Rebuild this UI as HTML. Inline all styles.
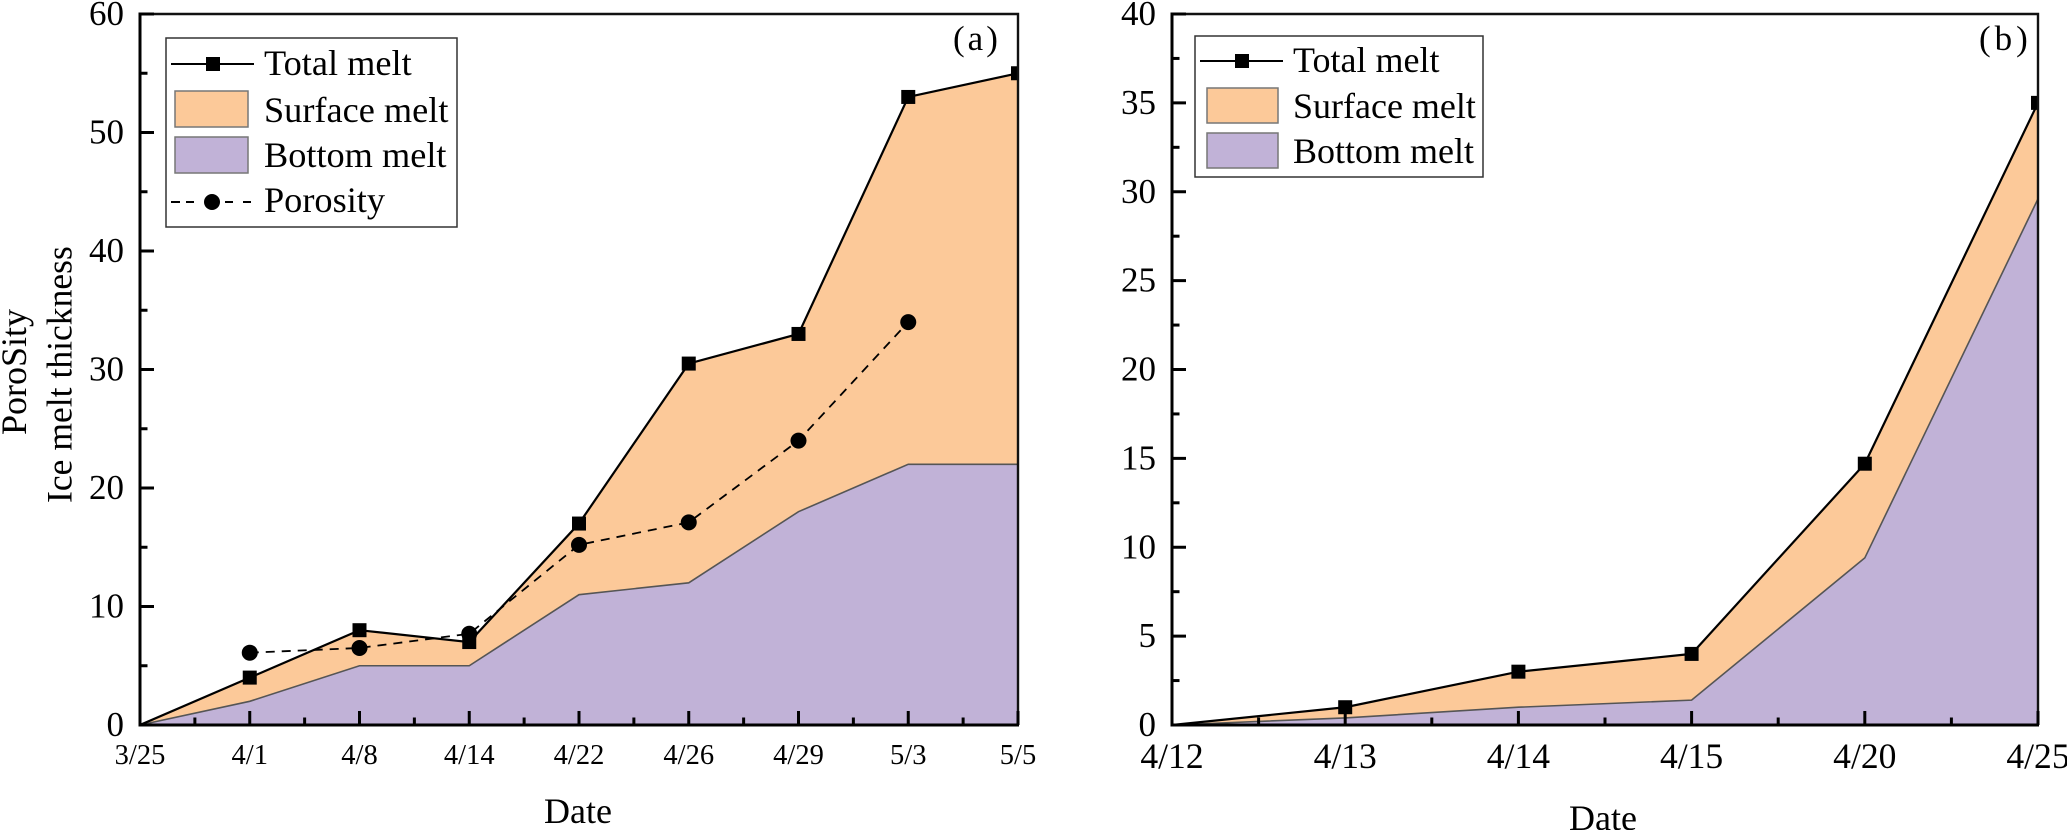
<!DOCTYPE html>
<html lang="en">
<head>
<meta charset="utf-8">
<title>Ice melt thickness and porosity charts</title>
<style>
html,body{margin:0;padding:0;background:#fff;width:2067px;height:830px;overflow:hidden}
svg{display:block}
text{font-family:"Liberation Serif",serif;fill:#000}
</style>
</head>
<body>
<svg id="figure" xmlns="http://www.w3.org/2000/svg" width="2067" height="830" viewBox="0 0 2067 830">
  <defs>
    <clipPath id="clip-a"><rect x="140" y="14" width="878" height="711"/></clipPath>
    <clipPath id="clip-b"><rect x="1172" y="14" width="866" height="711"/></clipPath>
  </defs>
  <g id="chart-a"></g>
  <g id="chart-b"></g>

  <text transform="translate(26,435) rotate(-90)" font-size="36">PoroSity</text>
  <text transform="translate(71.5,503) rotate(-90)" font-size="35.6">Ice melt thickness</text>
  <text x="578" y="823" font-size="36" text-anchor="middle">Date</text>
  <text x="1603" y="830" font-size="36" text-anchor="middle">Date</text>
  <text x="953" y="50" font-size="35" letter-spacing="3">(a)</text>
  <text x="1979" y="50" font-size="35" letter-spacing="4">(b)</text>

  <g>
    <rect x="166" y="38" width="291" height="189" fill="#fff" stroke="#333" stroke-width="1.5"/>
    <line x1="171" y1="64" x2="254" y2="64" stroke="#000" stroke-width="2"/>
    <rect x="206" y="57" width="14" height="14" fill="#000"/>
    <text x="264" y="75" font-size="36.3">Total melt</text>
    <rect x="175" y="91" width="73" height="36" fill="#fcc999" stroke="#777" stroke-width="1.5"/>
    <text x="264" y="122" font-size="36.3">Surface melt</text>
    <rect x="175" y="137" width="73" height="36" fill="#c1b2d7" stroke="#777" stroke-width="1.5"/>
    <text x="264" y="167" font-size="36.3">Bottom melt</text>
    <line x1="171" y1="202" x2="251" y2="202" stroke="#000" stroke-width="2" stroke-dasharray="9 6 8 31 8 10 8"/>
    <circle cx="212" cy="202" r="8" fill="#000"/>
    <text x="264" y="212" font-size="36.3">Porosity</text>
  </g>

  <g>
    <rect x="1195" y="36" width="288" height="141" fill="#fff" stroke="#333" stroke-width="1.5"/>
    <line x1="1200" y1="61" x2="1283" y2="61" stroke="#000" stroke-width="2"/>
    <rect x="1235" y="54" width="14" height="14" fill="#000"/>
    <text x="1293" y="72" font-size="36">Total melt</text>
    <rect x="1207" y="88" width="71" height="35" fill="#fcc999" stroke="#777" stroke-width="1.5"/>
    <text x="1293" y="118" font-size="36">Surface melt</text>
    <rect x="1207" y="133" width="71" height="35" fill="#c1b2d7" stroke="#777" stroke-width="1.5"/>
    <text x="1293" y="163" font-size="36">Bottom melt</text>
  </g>
</svg>
<script>
const datesA = ['3/25','4/1','4/8','4/14','4/22','4/26','4/29','5/3','5/5'];
const totalMeltA = [0,4,8,7,17,30.5,33,53,55];
const bottomMeltA = [0,2,5,5,11,12,18,22,22];
const porosityA = [null,6.1,6.5,7.7,15.2,17.1,24,34,null];
const yTicksA = [0,10,20,30,40,50,60];

const datesB = ['4/12','4/13','4/14','4/15','4/20','4/25'];
const totalMeltB = [0,1,3,4,14.7,35];
const bottomMeltB = [0,0.4,1,1.4,9.4,29.6];
const yTicksB = [0,5,10,15,20,25,30,35,40];

const SVGNS = 'http://www.w3.org/2000/svg';
function make(tag, attrs, parent, txt) {
  const el = document.createElementNS(SVGNS, tag);
  for (const k in attrs) el.setAttribute(k, attrs[k]);
  if (txt !== undefined) el.textContent = txt;
  parent.appendChild(el);
  return el;
}

function drawChart(opts) {
  const g = document.getElementById(opts.id);
  const L = opts.left, R = opts.right, T = 14, B = 725;
  const n = opts.dates.length;
  const yMax = opts.yTicks[opts.yTicks.length - 1];
  const xAt = function (i) { return L + (R - L) * i / (n - 1); };
  const yAt = function (v) { return B - (B - T) * v / yMax; };
  const pts = function (arr) {
    return arr.map(function (v, i) { return xAt(i) + ',' + yAt(v); }).join(' ');
  };
  const revBottom = opts.bottom.map(function (v, i) { return xAt(i) + ',' + yAt(v); }).reverse().join(' ');
  const base = xAt(n - 1) + ',' + B + ' ' + xAt(0) + ',' + B;

  const surfaceArea = make('polygon', {points: pts(opts.total) + ' ' + revBottom, fill: '#fcc999', stroke: 'none'}, g);
  
  

  const bottomArea = make('polygon', {points: pts(opts.bottom) + ' ' + base, fill: '#c1b2d7', stroke: 'none'}, g);
  
  

  const bottomEdge = make('polyline', {points: pts(opts.bottom), fill: 'none', stroke: '#555', 'stroke-width': 1.6}, g);
  
  

  const marks = make('g', {'clip-path': 'url(#' + opts.clip + ')'}, g);
  
  

  const totalLine = make('polyline', {points: pts(opts.total), fill: 'none', stroke: '#000', 'stroke-width': 2.2}, marks);
  
  

  opts.total.forEach(function (v, i) {
    if (i === 0) return;
    const m = make('rect', {x: xAt(i) - 7, y: yAt(v) - 7, width: 14, height: 14, fill: '#000'}, marks);
    
    
  });

  if (opts.porosity) {
    const valid = [];
    opts.porosity.forEach(function (v, i) { if (v !== null) valid.push(xAt(i) + ',' + yAt(v)); });
    const pLine = make('polyline', {points: valid.join(' '), fill: 'none', stroke: '#000', 'stroke-width': 1.8, 'stroke-dasharray': '9 7'}, marks);
    
    
    opts.porosity.forEach(function (v, i) {
      if (v === null) return;
      const c = make('circle', {cx: xAt(i), cy: yAt(v), r: 8, fill: '#000'}, marks);
      
      
    });
  }

  const frame = make('path', {d: 'M' + L + ' ' + T + 'H' + R + 'V' + B, fill: 'none', stroke: '#111', 'stroke-width': 2.4}, g);
  
  

  const yAxis = make('line', {x1: L, y1: T - 1.5, x2: L, y2: B + 1.5, stroke: '#000', 'stroke-width': 3}, g);
  
  

  const xAxis = make('line', {x1: L, y1: B, x2: R + 1, y2: B, stroke: '#000', 'stroke-width': 3}, g);
  
  

  const step = opts.yTicks[1] - opts.yTicks[0];
  opts.yTicks.forEach(function (v, i) {
    const t = make('line', {x1: L, y1: yAt(v), x2: L + 14, y2: yAt(v), stroke: '#000', 'stroke-width': 3}, g);
    
    
    const lab = make('text', {x: opts.yLabelRight, y: yAt(v) + 11, 'font-size': 35, 'text-anchor': 'end'}, g, String(v));
    
    
    if (i < opts.yTicks.length - 1) {
      const my = yAt(v + step / 2);
      const mt = make('line', {x1: L, y1: my, x2: L + 7.5, y2: my, stroke: '#000', 'stroke-width': 3}, g);
      
      
    }
  });

  opts.dates.forEach(function (d, i) {
    const x = xAt(i);
    const t = make('line', {x1: x, y1: B, x2: x, y2: B - 14, stroke: '#000', 'stroke-width': 3}, g);
    
    
    const lab = make('text', {x: x, y: opts.xLabelY, 'font-size': opts.xFont, 'text-anchor': 'middle'}, g, d);
    
    
    if (i < n - 1) {
      const mx = xAt(i + 0.5);
      const mt = make('line', {x1: mx, y1: B, x2: mx, y2: B - 7.5, stroke: '#000', 'stroke-width': 3}, g);
      
      
    }
  });
}

drawChart({id: 'chart-a', clip: 'clip-a', left: 140, right: 1018, dates: datesA, total: totalMeltA, bottom: bottomMeltA, porosity: porosityA, yTicks: yTicksA, yLabelRight: 124, xLabelY: 764, xFont: 28.5});
drawChart({id: 'chart-b', clip: 'clip-b', left: 1172, right: 2038, dates: datesB, total: totalMeltB, bottom: bottomMeltB, porosity: null, yTicks: yTicksB, yLabelRight: 1156, xLabelY: 768, xFont: 35.6});
</script>
</body>
</html>
